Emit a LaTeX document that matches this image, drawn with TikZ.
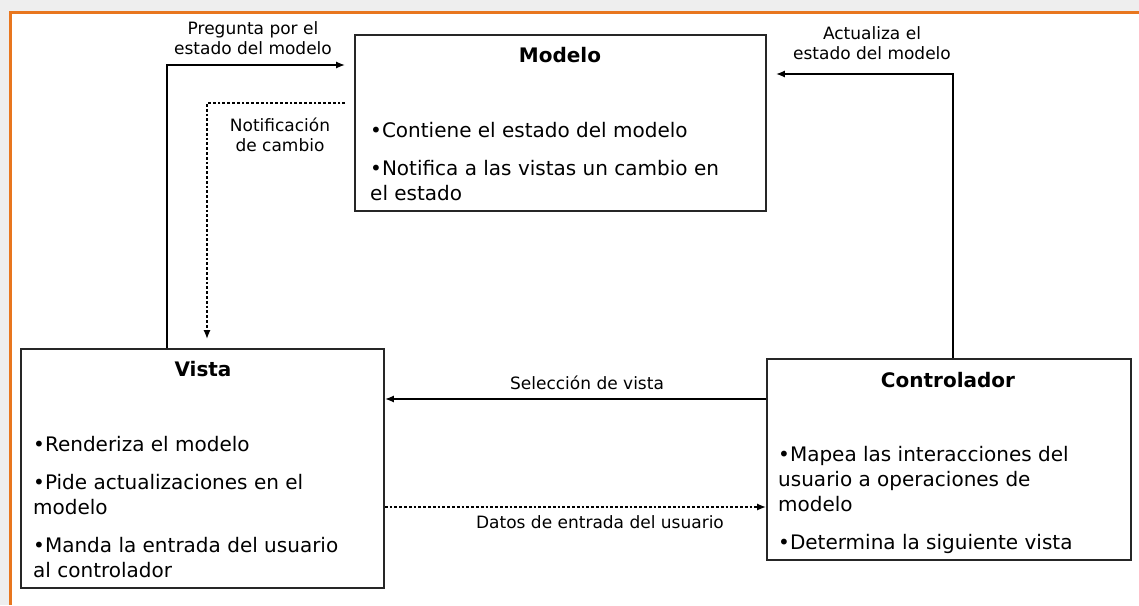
\documentclass[tikz,border=0pt]{standalone}
\usepackage{fontspec}
\setmainfont{DejaVu Sans}
\usepackage{xcolor}
\usetikzlibrary{arrows.meta}

\definecolor{naranja}{HTML}{E8761E}
\definecolor{fondo}{HTML}{EEEEEE}

\begin{document}
\begin{tikzpicture}[x=1pt, y=-1pt,
	caja/.style={draw=black!85, line width=1.6pt, rectangle, inner sep=0pt},
	titulo/.style={font=\fontsize{20}{22}\selectfont\bfseries},
	cuerpo/.style={font=\fontsize{20}{25}\selectfont, align=left, anchor=north west, inner sep=0pt},
	etiqueta/.style={font=\fontsize{17}{20}\selectfont, align=center},
	flecha/.style={-{Latex[length=9pt,width=7pt]}, line width=1.8pt},
	punteada/.style={flecha, line width=2.8pt, dash pattern=on 2.8pt off 2pt}]

	\useasboundingbox (0,0) rectangle (1139,605);

	% Frame.
	\fill[fondo] (0,0) rectangle (1139,605);
	\fill[white] (10,12) rectangle (1139,605);
	\draw[naranja, line width=3pt] (10,605) -- (10,12) -- (1139,12);

	% Box definitions.
	\node[caja, minimum width=411pt, minimum height=176pt]       (modelo) at (560.5,123) {};
	\node[caja, minimum width=363pt, minimum height=239pt]        (vista) at (202.5,468.5) {};
	\node[caja, minimum width=364pt, minimum height=201pt]  (controlador) at (949,459.5) {};

	% Box texts.
	\node[titulo]      (t_modelo) at (560,55)  {Modelo};
	\node[titulo]       (t_vista) at (203,369) {Vista};
	\node[titulo] (t_controlador) at (948,380) {Controlador};
	\node[cuerpo]      (b_modelo) at (370,122) {•Contiene el estado del modelo\\[13pt]•Notifica a las vistas un cambio en\\el estado};
	\node[cuerpo]       (b_vista) at (33,436)  {•Renderiza el modelo\\[13pt]•Pide actualizaciones en el\\modelo\\[13pt]•Manda la entrada del usuario\\al controlador};
	\node[cuerpo] (b_controlador) at (778,446) {•Mapea las interacciones del\\usuario a operaciones de\\modelo\\[13pt]•Determina la siguiente vista};

	% Bends.
	\coordinate (c_pregunta) at (167,65);
	\coordinate (c_notifica) at (207,103);
	\coordinate (c_actualiza) at (953,74);
	\coordinate (c_seleccion) at (575,399);
	\coordinate (c_datos) at (575,507);

	% Arrows.
	\draw[flecha, shorten >=9pt]                  (c_pregunta |- vista.north) -- (c_pregunta) -- (c_pregunta -| modelo.west);
	\draw[punteada, shorten <=9pt, shorten >=9pt] (c_notifica -| modelo.west) -- (c_notifica) -- (c_notifica |- vista.north);
	\draw[flecha, shorten >=9pt]                  (c_actualiza |- controlador.north) -- (c_actualiza) -- (c_actualiza -| modelo.east);
	\draw[flecha]                                 (c_seleccion -| controlador.west) -- (c_seleccion -| vista.east);
	\draw[punteada]                               (c_datos -| vista.east) -- (c_datos -| controlador.west);

	% Arrow labels.
	\node[etiqueta]  (l_pregunta) at (253,38)  {Pregunta por el\\estado del modelo};
	\node[etiqueta]  (l_notifica) at (280,135) {Notificación\\de cambio};
	\node[etiqueta] (l_actualiza) at (872,43)  {Actualiza el\\estado del modelo};
	\node[etiqueta] (l_seleccion) at (587,383) {Selección de vista};
	\node[etiqueta]     (l_datos) at (600,522) {Datos de entrada del usuario};

\end{tikzpicture}
\end{document}
